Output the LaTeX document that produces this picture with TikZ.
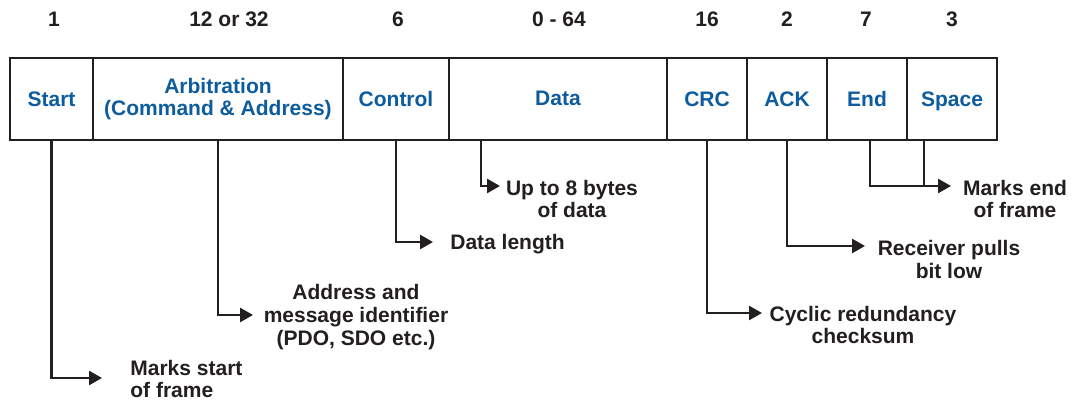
\documentclass[tikz,border=0pt]{standalone}
\usepackage{fontspec}
\setmainfont{Liberation Sans}
\usetikzlibrary{arrows.meta}
\definecolor{fieldblue}{RGB}{12,92,158}
\definecolor{ink}{RGB}{35,31,32}
\begin{document}
\begin{tikzpicture}[x=0.5pt,y=-0.5pt,
  every node/.style={font=\bfseries\fontsize{10.5}{11.3}\selectfont, text=ink, inner sep=0pt},
  fld/.style={draw=ink, line width=1.2pt, minimum height=41pt, outer sep=0pt, text=fieldblue, align=center, text height=7.6pt, text depth=0pt},
  fldtwo/.style={draw=ink, line width=1.2pt, minimum height=41pt, outer sep=0pt, text=fieldblue, align=center},
  num/.style={anchor=base},
  desc/.style={align=center},
  conn/.style={draw=ink, line width=1.3pt, -{Triangle[length=6.5pt,width=7pt]}},
  wire/.style={draw=ink, line width=1.3pt}]
\useasboundingbox[fill=white] (0,0) rectangle (1072,400);

% bit counts
\node[num] (n1) at (54,27) {1};
\node[num] (n2) at (229,27) {12 or 32};
\node[num] (n3) at (398,27) {6};
\node[num] (n4) at (559,27) {0 - 64};
\node[num] (n5) at (707,27) {16};
\node[num] (n6) at (787,27) {2};
\node[num] (n7) at (866,27) {7};
\node[num] (n8) at (952,27) {3};

% frame fields
\node[fld, minimum width=41.5pt] (start) at (51.5,99) {Start};
\node[fldtwo, minimum width=125pt] (arb) at (218,99) {Arbitration\\(Command \& Address)};
\node[fld, minimum width=53pt] (ctrl) at (396,99) {Control};
\node[fld, minimum width=109pt, text depth=1pt] (data) at (558,99) {Data};
\node[fld, minimum width=40pt] (crc) at (707,99) {CRC};
\node[fld, minimum width=40pt] (ack) at (787,99) {ACK};
\node[fld, minimum width=40pt] (end) at (867,99) {End};
\node[fld, minimum width=45pt] (space) at (952,99) {Space};

% arrow end points
\coordinate (e1) at (102,378);
\coordinate (e2) at (253,315);
\coordinate (e3) at (433,242);
\coordinate (e4) at (500,186);
\coordinate (e5) at (762,313);
\coordinate (e6) at (865,246);
\coordinate (e7) at (951,186);

% descriptions
\node[anchor=west, align=left] (t1) at (130,379) {Marks start\\of frame};
\node[desc] (t2) at (356,317) {Address and\\message identifier\\(PDO, SDO etc.)};
\node[anchor=base west] (t3) at (450,249.5) {Data length};
\node[desc] (t4) at (572,199) {Up to 8 bytes\\of data};
\node[desc] (t5) at (863,325) {Cyclic redundancy\\checksum};
\node[desc] (t6) at (949,259.5) {Receiver pulls\\bit low};
\node[desc] (t7) at (1015,199) {Marks end\\of frame};

% connectors
\draw[conn] (start.south) |- (e1);
\draw[conn] (arb.south) |- (e2);
\draw[conn] (ctrl.south) |- (e3);
\draw[conn] ([xshift=16pt]data.south west) |- (e4);
\draw[conn] (crc.south) |- (e5);
\draw[conn] (ack.south) |- (e6);
\draw[wire] ([xshift=8.5pt]space.south west) |- ([xshift=-6pt]e7);
\draw[conn] ([xshift=1.5pt]end.south) |- (e7);
\end{tikzpicture}
\end{document}
